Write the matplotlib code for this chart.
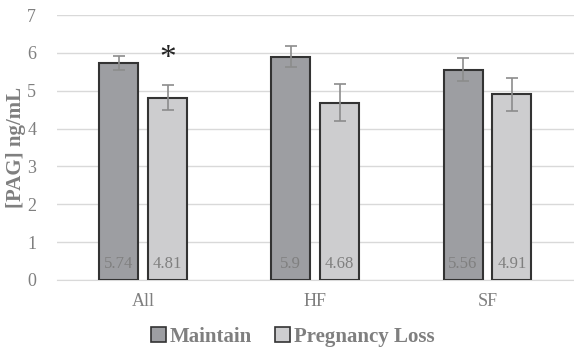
import matplotlib
matplotlib.use("Agg")
import matplotlib.pyplot as plt
import numpy as np
from matplotlib.patches import Patch

# ── Dados ────────────────────────────────────────────────────────────────────
grupos = ["All", "HF", "SF"]
series = ["Maintain", "Pregnancy Loss"]
maintain = [5.74, 5.9, 5.56]
perda = [4.81, 4.68, 4.91]
maintain_err = [0.18, 0.27, 0.31]
perda_err = [0.33, 0.49, 0.44]
y_ticks = [0, 1, 2, 3, 4, 5, 6, 7]

COR_MAINTAIN = "#9d9ea2"
COR_PERDA = "#cdcdcf"
COR_BORDA = "#333333"
COR_TEXTO = "#7f7f7f"

plt.rcParams["font.family"] = ["Liberation Serif", "DejaVu Serif"]

fig = plt.figure(figsize=(5.74, 3.5), dpi=100)
ax = fig.add_axes([0.0993, 0.2, 0.9, 0.757])

x = np.arange(len(grupos))
largura = 0.226
desloc = 0.142

b1 = ax.bar(x - desloc, maintain, largura, color=COR_MAINTAIN, edgecolor=COR_BORDA,
            linewidth=1.5, zorder=3)
b2 = ax.bar(x + desloc, perda, largura, color=COR_PERDA, edgecolor=COR_BORDA,
            linewidth=1.5, zorder=3)
ax.errorbar(x - desloc, maintain, yerr=maintain_err, fmt="none", ecolor="#8c8c8c",
            elinewidth=1.2, capsize=4, capthick=1.2, zorder=4)
ax.errorbar(x + desloc, perda, yerr=perda_err, fmt="none", ecolor="#8c8c8c",
            elinewidth=1.2, capsize=4, capthick=1.2, zorder=4)

# rótulos dentro das barras, junto à base
for barras, vals in ((b1, maintain), (b2, perda)):
    for bar, v in zip(barras, vals):
        ax.text(bar.get_x() + bar.get_width() / 2, 0.42, f"{v:g}", ha="center",
                va="center", fontsize=12, color=COR_TEXTO, zorder=5)

# asterisco de significância
ax.text(x[0] + desloc, perda[0] + perda_err[0] + 0.70, "*", ha="center", va="center",
        fontsize=24, color="#222222", zorder=5)

ax.set_ylim(0, 7)
ax.set_xlim(-0.5, 2.5)
ax.set_yticks(y_ticks)
ax.set_xticks(x)
ax.set_xticklabels(grupos)
ax.tick_params(axis="both", length=0, labelsize=13, labelcolor=COR_TEXTO)
ax.tick_params(axis="y", pad=15)
ax.tick_params(axis="x", pad=9)
ax.grid(axis="y", color="#d9d9d9", linewidth=1, zorder=0)
for s in ["top", "right", "left"]:
    ax.spines[s].set_visible(False)
ax.spines["bottom"].set_color("#d9d9d9")
ax.set_ylabel("[PAG] ng/mL", fontsize=15, fontweight="bold", color=COR_TEXTO, labelpad=1)

handles = [Patch(facecolor=COR_MAINTAIN, edgecolor=COR_BORDA, linewidth=1.2),
           Patch(facecolor=COR_PERDA, edgecolor=COR_BORDA, linewidth=1.2)]
leg = fig.legend(handles, series, loc="center", bbox_to_anchor=(0.51, 0.037), ncol=2,
                 frameon=False, handlelength=0.7, handleheight=0.7, handletextpad=0.2,
                 columnspacing=1.1, prop={"size": 15, "weight": "bold"})
for t in leg.get_texts():
    t.set_color(COR_TEXTO)

fig.savefig("out.png", dpi=100)
